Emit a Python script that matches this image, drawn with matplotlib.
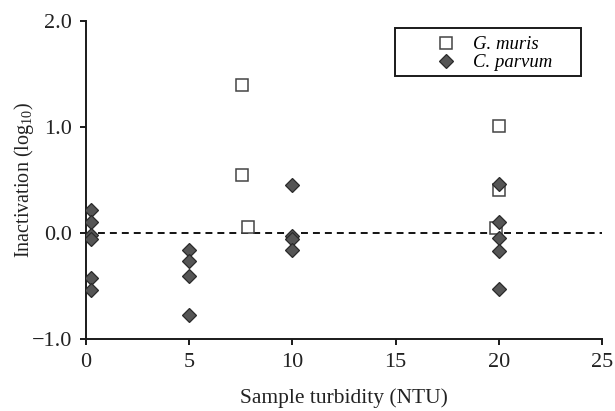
import matplotlib
matplotlib.use("Agg")
import matplotlib.pyplot as plt
from matplotlib.patches import Rectangle

# ---- data ----
gmuris_x = [7.55, 7.55, 7.83, 20.0, 20.0, 19.85]
gmuris_y = [1.40, 0.55, 0.06, 1.01, 0.41, 0.05]

cparvum_x = [0.25, 0.25, 0.25, 0.25, 0.25, 0.25,
             5.0, 5.0, 5.0, 5.0,
             10.0, 10.0, 10.0, 10.0,
             20.0, 20.0, 20.0, 20.0, 20.0]
cparvum_y = [0.22, 0.10, -0.02, -0.06, -0.42, -0.54,
             -0.16, -0.26, -0.41, -0.77,
             0.45, -0.03, -0.06, -0.16,
             0.46, 0.10, -0.05, -0.17, -0.53]

x_ticks = [0, 5, 10, 15, 20, 25]
y_ticks = [-1.0, 0.0, 1.0, 2.0]
y_tick_labels = ["\u22121.0", "0.0", "1.0", "2.0"]
series_labels = ["G. muris", "C. parvum"]
x_label = "Sample turbidity (NTU)"
y_label = "Inactivation (log$_{10}$)"

plt.rcParams["font.family"] = ["Liberation Serif", "DejaVu Serif"]
plt.rcParams["mathtext.fontset"] = "custom"
plt.rcParams["mathtext.rm"] = "Liberation Serif"
plt.rcParams["mathtext.it"] = "Liberation Serif:italic"

W, H = 615, 411
fig = plt.figure(figsize=(W / 100, H / 100), dpi=100)
ax = fig.add_axes([86 / W, 72 / H, (602 - 86) / W, (339 - 21) / H])

ax.axhline(0, color="black", lw=1.3, ls=(0, (5.0 / 1.3, 3.6 / 1.3)), zorder=1)

ax.plot(gmuris_x, gmuris_y, ls="none", marker="s", ms=8, mfc="white",
        mec="#444444", mew=1.1, label=series_labels[0], zorder=3)
ax.plot(cparvum_x, cparvum_y, ls="none", marker="D", ms=7.5, mfc="#555555",
        mec="#2a2a2a", mew=0.9, label=series_labels[1], zorder=4)

ax.set_xlim(0, 25)
ax.set_ylim(-1, 2)
ax.set_xticks(x_ticks)
ax.set_xticklabels([str(t) for t in x_ticks])
ax.set_yticks(y_ticks)
ax.set_yticklabels(y_tick_labels)

for s in ["top", "right"]:
    ax.spines[s].set_visible(False)
for s in ["left", "bottom"]:
    ax.spines[s].set_linewidth(1.4)
    ax.spines[s].set_color("#1a1a1a")

ax.tick_params(axis="both", direction="out", length=4, width=1.4,
               color="#1a1a1a", labelsize=16, pad=6, labelcolor="#222222")

ax.set_xlabel(x_label, fontsize=15.5, labelpad=12, color="#222222")
ax.set_ylabel(y_label, fontsize=14.5, labelpad=-3, color="#222222")

leg = ax.legend(loc="upper left", bbox_to_anchor=(427 / W, 1 - 36 / H),
                bbox_transform=fig.transFigure, frameon=False,
                prop={"style": "italic", "size": 13.5}, borderpad=0,
                handlelength=2.0, handletextpad=0.45, labelspacing=0.05,
                borderaxespad=0)

fig.add_artist(Rectangle((395 / W, 1 - 76 / H), (581 - 395) / W, 48 / H,
                         transform=fig.transFigure, fill=False,
                         ec="#1a1a1a", lw=1.4))

fig.savefig("out.png", dpi=100)
